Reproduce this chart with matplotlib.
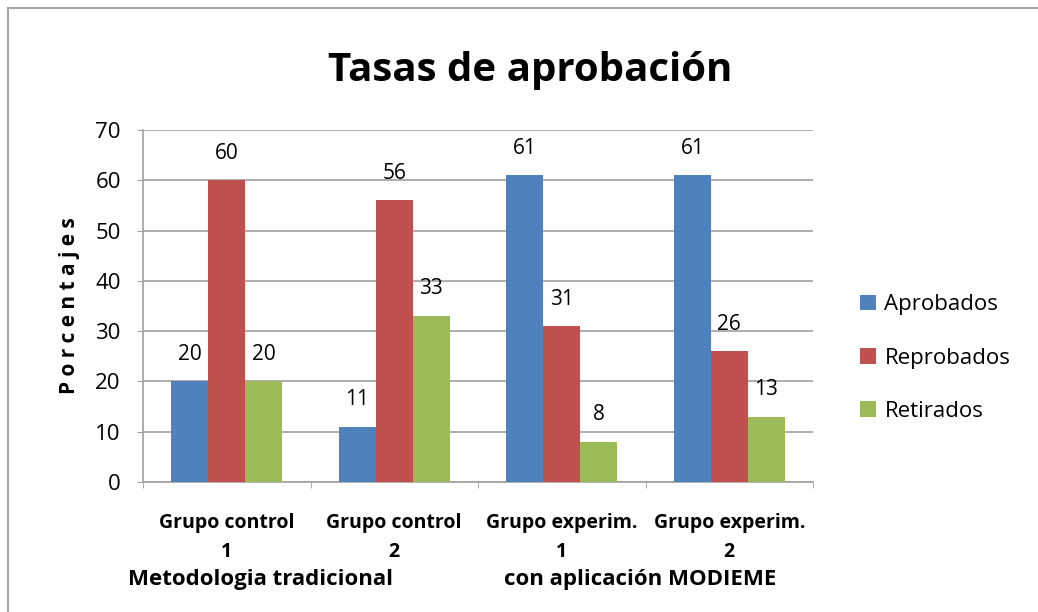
import matplotlib.pyplot as plt
import numpy as np
from matplotlib.patches import Rectangle

plt.rcParams['font.family'] = ['Open Sans', 'DejaVu Sans']

categories = ["Grupo control\n1", "Grupo control\n2", "Grupo experim.\n1", "Grupo experim.\n2"]
series_names = ["Aprobados", "Reprobados", "Retirados"]
aprobados = [20, 11, 61, 61]
reprobados = [60, 56, 31, 26]
retirados = [20, 33, 8, 13]
colors = ["#4F81BD", "#C0504D", "#9BBB59"]

fig = plt.figure(figsize=(10.38, 6.12), dpi=100)
ax = fig.add_axes([143 / 1038, 1 - 482 / 612, 670 / 1038, 352 / 612])

# outer frame of the chart
fig.patches.append(Rectangle((8 / 1038, -0.01), 1.05, 1 - 8 / 612 + 0.01, transform=fig.transFigure,
                             fill=False, edgecolor="#A6A6A6", linewidth=1.5))

x = np.arange(len(categories))
width = 0.22
for i, (vals, name) in enumerate(zip([aprobados, reprobados, retirados], series_names)):
    pos = x + (i - 1) * width
    bars = ax.bar(pos, vals, width, color=colors[i], label=name, zorder=3)
    for b, v in zip(bars, vals):
        ax.text(b.get_x() + b.get_width() / 2, v + 3.3, str(v), ha="center", va="bottom",
                fontsize=15, zorder=4)

ax.set_xlim(-0.5, len(categories) - 0.5)
ax.set_ylim(0, 70)
ax.set_yticks(range(0, 71, 10))
ax.yaxis.grid(True, color="#A0A0A0", linewidth=1.2, zorder=0)
ax.set_axisbelow(True)
for s in ["top", "right"]:
    ax.spines[s].set_visible(False)
for s in ["left", "bottom"]:
    ax.spines[s].set_color("#A0A0A0")
    ax.spines[s].set_linewidth(1.2)
ax.tick_params(axis="y", length=4, color="#A0A0A0", labelsize=16, pad=12)
ax.set_xticks(np.arange(len(categories) + 1) - 0.5, minor=True)
ax.set_xticks(x)
ax.set_xticklabels(categories, fontweight="bold", fontsize=14, linespacing=1.6)
ax.tick_params(axis="x", which="major", length=0, pad=22)
ax.tick_params(axis="x", which="minor", length=4, color="#A0A0A0")

ax.set_ylabel("P o r c e n t a j e s", fontweight="bold", fontsize=15, labelpad=11)

fig.text(530 / 1038, 1 - 70 / 612, "Tasas de aprobación", ha="center", va="center",
         fontsize=29, fontweight="bold")
fig.text(260 / 1038, 1 - 580 / 612, "Metodologia tradicional", ha="center", va="center",
         fontsize=16, fontweight="bold")
fig.text(640 / 1038, 1 - 580 / 612, "con aplicación MODIEME", ha="center", va="center",
         fontsize=16, fontweight="bold")

fig.legend(loc="center left", bbox_to_anchor=(840 / 1038, 1 - 358 / 612), frameon=False, fontsize=16,
           handlelength=0.7, handleheight=0.7, labelspacing=1.45, handletextpad=0.4)

fig.savefig("out.png", dpi=100)
